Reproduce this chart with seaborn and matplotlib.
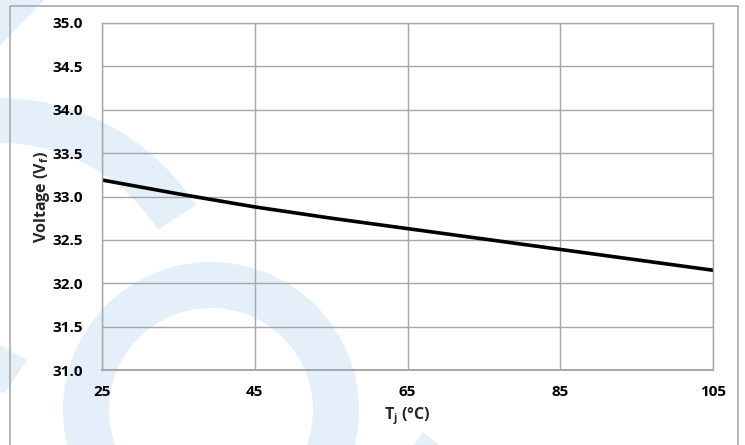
import matplotlib
matplotlib.use("Agg")
import matplotlib.pyplot as plt
import seaborn as sns
import pandas as pd
from matplotlib.patches import Wedge, Polygon, Rectangle

# data
temps = [25, 35, 45, 55, 65, 75, 85, 95, 105]
volts = [33.19, 33.03, 32.88, 32.75, 32.63, 32.51, 32.39, 32.27, 32.15]
x_ticks = [25, 45, 65, 85, 105]
y_ticks = [31.0, 31.5, 32.0, 32.5, 33.0, 33.5, 34.0, 34.5, 35.0]

df = pd.DataFrame({"Tj": temps, "Vf": volts})

sns.set_style("white")
plt.rcParams['font.family'] = ['Open Sans', 'DejaVu Sans']
plt.rcParams['mathtext.fontset'] = 'custom'
plt.rcParams['mathtext.rm'] = 'Open Sans'
plt.rcParams['mathtext.bf'] = 'Open Sans:bold'

W, H = 745, 445
fig = plt.figure(figsize=(W / 100, H / 100), dpi=100)

# background layer in pixel units (y downwards) for watermark + frame
bg = fig.add_axes([0, 0, 1, 1], zorder=0)
bg.set_xlim(0, W)
bg.set_ylim(H, 0)
bg.axis('off')
wm = '#e4eff9'
bg.add_patch(Wedge((211, 410), 148, 0, 360, width=46, color=wm, lw=0))
bg.add_patch(Wedge((0, 330), 232, -180, -32.5, width=45, color=wm, lw=0))
bg.add_patch(Polygon([(0, 0), (44, 0), (0, 46)], closed=True, color=wm, lw=0))
bg.add_patch(Polygon([(0, 345), (27, 360), (5, 393), (0, 392)], closed=True, color=wm, lw=0))
bg.add_patch(Polygon([(413, 446), (423, 432), (440, 446)], closed=True, color=wm, lw=0))
bg.add_patch(Rectangle((10, 6), 728, 450, fill=False, edgecolor='#a9a9a9', lw=1.2))

ax = fig.add_axes([102 / W, 1 - 370 / H, (713 - 102) / W, (370 - 23) / H], zorder=1)
ax.patch.set_alpha(0)

sns.lineplot(data=df, x="Tj", y="Vf", color='black', linewidth=2.6, ax=ax)

ax.set_xlim(25, 105)
ax.set_ylim(31.0, 35.0)
ax.set_xticks(x_ticks)
ax.set_yticks(y_ticks)
ax.set_yticklabels([f"{v:.1f}" for v in y_ticks])
ax.grid(True, color='#a6a6a6', linewidth=1.0)
ax.set_axisbelow(True)
for s in ax.spines.values():
    s.set_color('#a6a6a6')
    s.set_linewidth(1.0)
ax.spines['bottom'].set_linewidth(1.4)
ax.tick_params(axis='both', length=0, labelsize=11, colors='black')
ax.tick_params(axis='y', pad=14)
ax.tick_params(axis='x', pad=11)
for lab in ax.get_xticklabels() + ax.get_yticklabels():
    lab.set_fontweight('bold')

ax.set_xlabel(r"T$_\mathbf{j}$ (°C)", fontsize=11.5, fontweight='bold', labelpad=4)
ax.set_ylabel(r"Voltage (V$_\mathbf{f}$)", fontsize=11.5, fontweight='bold', labelpad=0)

fig.savefig("out.png", dpi=100)
